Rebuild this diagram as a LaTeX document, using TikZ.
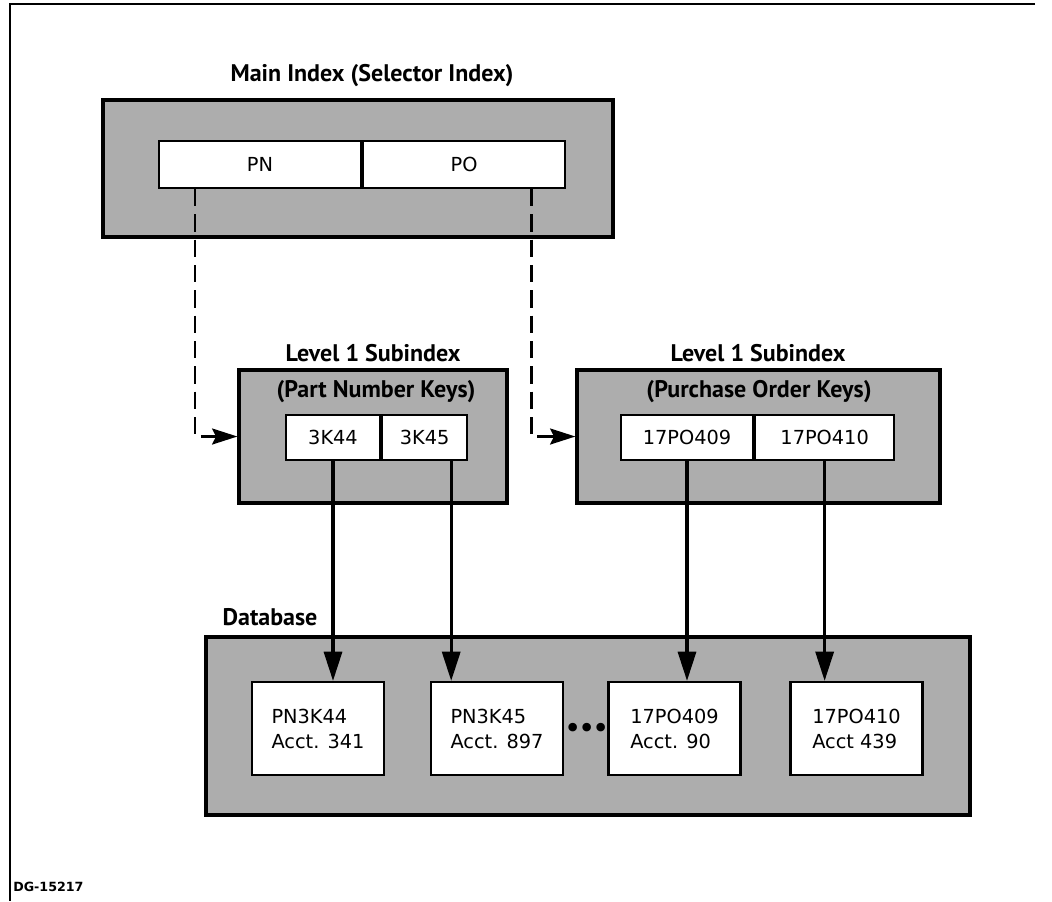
\documentclass[tikz,border=0pt]{standalone}
\usepackage{fontspec}
\setmainfont{DejaVu Sans}
\newfontfamily\headfont{PT Sans}
\usepackage{tikz}
\usetikzlibrary{arrows.meta,positioning,calc}
\definecolor{shade}{HTML}{ADADAD}

\begin{document}
\begin{tikzpicture}[
  x=0.75pt,y=-0.75pt,
  node distance=0pt,
  panel/.style={draw=black,line width=2.4pt,fill=shade,inner sep=0pt},
  cell/.style={draw=black,line width=1.6pt,fill=white,inner sep=0pt,font=\fontsize{14.5}{18.75}\selectfont},
  record/.style={cell,align=left,minimum width=99pt,minimum height=69.75pt},
  head/.style={inner sep=0pt,font=\headfont\bfseries\fontsize{18}{21}\selectfont},
  ptr/.style={-{Stealth[length=19pt,width=12pt,inset=3pt]},line width=2.1pt,dash pattern=on 13pt off 6pt},
  arr/.style={-{Triangle[length=22pt,width=13.5pt]},line width=2.5pt}
]
\useasboundingbox (0,0) rectangle (1052,901);
\draw[line width=1.5pt] (1035,4) -- (10,4) -- (10,901);

% selector index
\node[head] (maint) at (372,76) {Main Index (Selector Index)};
\node[panel,minimum width=382.5pt,minimum height=102.75pt] (mainidx) at (358,168.5) {};
\node[cell,minimum width=151.5pt,minimum height=35.25pt] (pn) at (260,164.5) {PN};
\node[cell,minimum width=151.5pt,minimum height=35.25pt,right=of pn] (po) {PO};

% level 1 subindexes
\node[head] (sub1t) at (373,353) {Level 1 Subindex};
\node[panel,minimum width=201pt,minimum height=99.75pt] (sub1) at (373,436.5) {};
\node[head] (sub1k) at (376,392) {(Part Number Keys)};
\node[cell,minimum width=70.5pt,minimum height=33.75pt] (k44) at (333,437.5) {3K44};
\node[cell,minimum width=63.75pt,minimum height=33.75pt,right=of k44] (k45) {3K45};

\node[head] (sub2t) at (758,353) {Level 1 Subindex};
\node[panel,minimum width=272.25pt,minimum height=99.75pt] (sub2) at (758.5,436.5) {};
\node[head] (sub2k) at (759,392) {(Purchase Order Keys)};
\node[cell,minimum width=99pt,minimum height=33.75pt] (p409) at (687,437.5) {17PO409};
\node[cell,minimum width=104.25pt,minimum height=33.75pt,right=of p409] (p410) {17PO410};

% database
\node[head] (dbt) at (270,617) {Database};
\node[panel,minimum width=573pt,minimum height=133.5pt] (db) at (588,726) {};
\node[record] (r1) at (318,728.5) {PN3K44\\Acct. 341};
\node[record] (r2) at (497,728.5) {PN3K45\\Acct. 897};
\node[record] (r3) at (674.5,728.5) {17PO409\\Acct. 90};
\node[record] (r4) at (856.5,728.5) {17PO410\\Acct 439};
\node[font=\fontsize{22}{22}\selectfont,inner sep=0pt] (dots) at (587,731) {•\kern-2.5pt•\kern-2.5pt•};

\node[anchor=west,inner sep=0pt,font=\bfseries\fontsize{9.5}{11}\selectfont] (dg) at (13,887) {DG-15217};

% pointers
\draw[ptr] ([xshift=27.75pt]pn.south west) |- (sub1.west);
\draw[ptr] ([xshift=-26.25pt]po.south east) |- (sub2.west);
\coordinate (k45out) at ([xshift=-12.75pt]k45.south east);
\draw[arr] (k44.south) -- (k44.south |- r1.north);
\draw[arr] (k45out) -- (k45out |- r2.north);
\draw[arr] (p409.south) -- (p409.south |- r3.north);
\draw[arr] (p410.south) -- (p410.south |- r4.north);
\end{tikzpicture}
\end{document}
